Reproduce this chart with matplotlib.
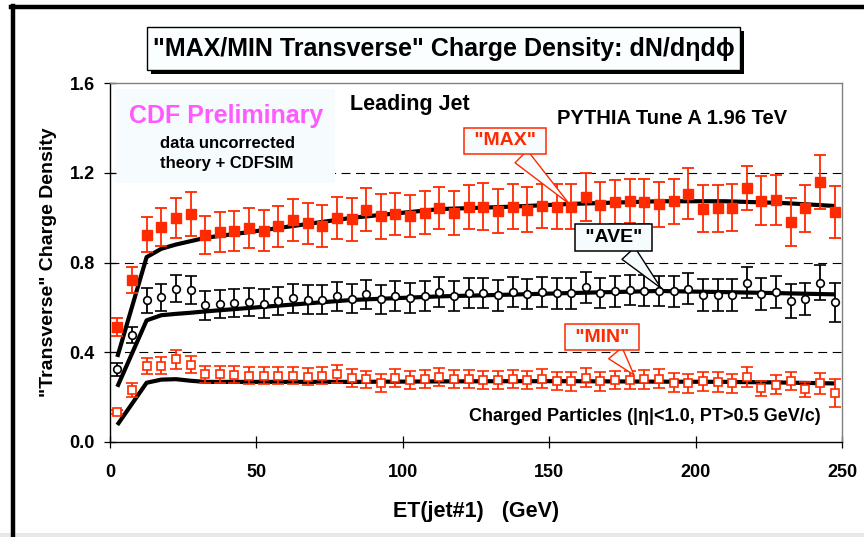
import matplotlib
matplotlib.use('Agg')
import matplotlib.pyplot as plt
from matplotlib.lines import Line2D
from matplotlib.patches import Rectangle

plt.rcParams['font.family'] = ['Liberation Sans', 'DejaVu Sans']
plt.rcParams['font.weight'] = 'bold'

# bin centres of ET(jet#1)
et = [2.5, 7.5, 12.5, 17.5, 22.5, 27.5, 32.5, 37.5, 42.5, 47.5,
      52.5, 57.5, 62.5, 67.5, 72.5, 77.5, 82.5, 87.5, 92.5, 97.5,
      102.5, 107.5, 112.5, 117.5, 122.5, 127.5, 132.5, 137.5, 142.5, 147.5,
      152.5, 157.5, 162.5, 167.5, 172.5, 177.5, 182.5, 187.5, 192.5, 197.5,
      202.5, 207.5, 212.5, 217.5, 222.5, 227.5, 232.5, 237.5, 242.5, 247.5]

max_val = [0.513, 0.723, 0.924, 0.957, 0.999, 1.016, 0.923, 0.935, 0.942, 0.954,
           0.942, 0.961, 0.990, 0.975, 0.963, 0.999, 0.993, 1.036, 1.006, 1.015,
           1.007, 1.022, 1.043, 1.019, 1.046, 1.049, 1.031, 1.049, 1.036, 1.052,
           1.049, 1.049, 1.093, 1.058, 1.068, 1.076, 1.071, 1.059, 1.073, 1.107,
           1.040, 1.041, 1.044, 1.132, 1.076, 1.079, 0.979, 1.041, 1.160, 1.025]
max_err = [0.040, 0.058, 0.077, 0.084, 0.090, 0.098, 0.086, 0.088, 0.089, 0.090,
           0.090, 0.091, 0.092, 0.092, 0.093, 0.094, 0.095, 0.096, 0.101, 0.094,
           0.094, 0.095, 0.093, 0.098, 0.098, 0.104, 0.098, 0.099, 0.100, 0.100,
           0.100, 0.101, 0.106, 0.100, 0.098, 0.098, 0.100, 0.100, 0.100, 0.114,
           0.105, 0.105, 0.105, 0.100, 0.110, 0.110, 0.107, 0.105, 0.120, 0.117]

ave_val = [0.324, 0.476, 0.631, 0.646, 0.683, 0.679, 0.609, 0.615, 0.618, 0.624,
           0.616, 0.628, 0.641, 0.634, 0.634, 0.650, 0.638, 0.658, 0.636, 0.650,
           0.643, 0.652, 0.668, 0.650, 0.662, 0.664, 0.653, 0.667, 0.659, 0.667,
           0.662, 0.662, 0.690, 0.665, 0.671, 0.677, 0.674, 0.673, 0.671, 0.684,
           0.655, 0.656, 0.655, 0.710, 0.659, 0.668, 0.628, 0.638, 0.710, 0.622]
ave_err = [0.030, 0.037, 0.056, 0.060, 0.060, 0.062, 0.064, 0.063, 0.063, 0.064,
           0.064, 0.064, 0.064, 0.064, 0.065, 0.065, 0.065, 0.064, 0.065, 0.066,
           0.066, 0.066, 0.066, 0.066, 0.067, 0.067, 0.067, 0.067, 0.067, 0.067,
           0.068, 0.068, 0.069, 0.068, 0.068, 0.068, 0.069, 0.069, 0.069, 0.070,
           0.070, 0.070, 0.070, 0.069, 0.072, 0.072, 0.074, 0.072, 0.079, 0.087]

min_val = [0.133, 0.231, 0.339, 0.339, 0.369, 0.344, 0.301, 0.301, 0.299, 0.296,
           0.295, 0.295, 0.295, 0.290, 0.296, 0.302, 0.285, 0.279, 0.261, 0.286,
           0.276, 0.281, 0.289, 0.279, 0.279, 0.276, 0.276, 0.281, 0.276, 0.283,
           0.271, 0.270, 0.286, 0.270, 0.276, 0.276, 0.279, 0.283, 0.265, 0.261,
           0.271, 0.267, 0.261, 0.290, 0.239, 0.256, 0.272, 0.234, 0.261, 0.219]
min_err = [0.010, 0.030, 0.037, 0.038, 0.043, 0.038, 0.039, 0.038, 0.038, 0.038,
           0.038, 0.038, 0.038, 0.038, 0.039, 0.039, 0.039, 0.039, 0.040, 0.039,
           0.040, 0.040, 0.040, 0.040, 0.040, 0.040, 0.040, 0.040, 0.040, 0.041,
           0.041, 0.041, 0.042, 0.041, 0.041, 0.041, 0.042, 0.042, 0.042, 0.043,
           0.043, 0.043, 0.043, 0.043, 0.034, 0.044, 0.041, 0.033, 0.045, 0.061]

# PYTHIA Tune A + CDFSIM curves
th_et = [2.5, 12.5, 17.5, 22.5, 27.5, 32.5, 50, 82.5, 112.5, 137.5, 157.5, 187.5, 210, 230, 247.5]
th_max = [0.379, 0.824, 0.861, 0.880, 0.895, 0.910, 0.940, 0.999, 1.038, 1.049, 1.061, 1.073, 1.073, 1.065, 1.052]
th_ave = [0.246, 0.542, 0.565, 0.571, 0.576, 0.582, 0.600, 0.633, 0.649, 0.657, 0.664, 0.673, 0.668, 0.663, 0.658]
th_min = [0.076, 0.264, 0.278, 0.280, 0.273, 0.268, 0.268, 0.268, 0.270, 0.271, 0.271, 0.269, 0.268, 0.265, 0.261]

xticks = [0, 50, 100, 150, 200, 250]
yticks = [0.0, 0.4, 0.8, 1.2, 1.6]

red = '#FF2A00'
boxbg = '#F6FBFD'

fig = plt.figure(figsize=(8.64, 5.37), dpi=100)
ax = fig.add_axes([110 / 864, 1 - 442 / 537, 732 / 864, 359 / 537])

for y in yticks[1:-1]:
    ax.axhline(y, color='black', lw=0.8, ls=(0, (8, 5)), zorder=0.5)

ax.plot(th_et, th_max, color='black', lw=3, zorder=2, solid_capstyle='butt')
ax.plot(th_et, th_ave, color='black', lw=3, zorder=2, solid_capstyle='butt')
ax.plot(th_et, th_min, color='black', lw=3, zorder=2, solid_capstyle='butt')

ax.errorbar(et, max_val, yerr=max_err, fmt='s', color=red, ms=6.5, mfc=red, mec=red,
            elinewidth=1.3, capsize=4, capthick=1.3, zorder=3)
ax.errorbar(et, ave_val, yerr=ave_err, fmt='o', color='black', ms=5.5, mfc='white', mec='black',
            mew=1.2, elinewidth=1.3, capsize=4, capthick=1.3, zorder=3)
ax.errorbar(et, min_val, yerr=min_err, fmt='s', color=red, ms=5.5, mfc='white', mec=red,
            mew=1.2, elinewidth=1.3, capsize=4, capthick=1.3, zorder=3)

ax.set_xlim(0, 250)
ax.set_ylim(0, 1.6)
ax.set_xticks(xticks)
ax.set_yticks(yticks)
ax.set_xticklabels([str(v) for v in xticks])
ax.set_yticklabels(['%.1f' % v for v in yticks])
ax.tick_params(direction='inout', length=8, width=0.9, labelsize=13, pad=7)
ax.tick_params(axis='x', pad=12)
for s in ['top', 'right']:
    ax.spines[s].set_color('#808080')
    ax.spines[s].set_linewidth(1.0)
for s in ['left', 'bottom']:
    ax.spines[s].set_linewidth(1.0)

ax.set_xlabel('ET(jet#1)   (GeV)', fontsize=15.5, fontweight='bold', labelpad=14)
ax.set_ylabel('"Transverse" Charge Density', fontsize=14, fontweight='bold', labelpad=9)

# text box upper left
ax.add_patch(Rectangle((1.7, 1.156), 75.1, 0.417, fc=boxbg, ec='none', zorder=1))
ax.text(39.5, 1.453, 'CDF Preliminary', color='#FF59FF', fontsize=18, fontweight='bold',
        ha='center', va='center', zorder=4)
ax.text(40, 1.329, 'data uncorrected', fontsize=12, ha='center', va='center', zorder=4)
ax.text(40, 1.24, 'theory + CDFSIM', fontsize=12, ha='center', va='center', zorder=4)

ax.text(102.5, 1.502, 'Leading Jet', fontsize=15.5, ha='center', va='center')
ax.text(192, 1.444, 'PYTHIA Tune A 1.96 TeV', fontsize=14.5, ha='center', va='center')
ax.text(182.5, 0.112, 'Charged Particles (|η|<1.0, PT>0.5 GeV/c)', fontsize=13,
        ha='center', va='center', zorder=4)

# callouts
for label, xy, xyt, col in [(' "MAX" ', (157.5, 1.053), (135, 1.342), red),
                            (' "AVE" ', (188.9, 0.676), (172, 0.911), 'black'),
                            (' "MIN" ', (179.6, 0.289), (168, 0.467), red)]:
    ax.annotate(label, xy=xy, xytext=xyt, ha='center', va='center', color=col,
                fontsize=14, fontweight='bold', zorder=5,
                bbox=dict(boxstyle='square,pad=0.24', fc=boxbg, ec=col, lw=1.1),
                arrowprops=dict(arrowstyle='wedge,tail_width=0.9,shrink_factor=0.5',
                                fc=boxbg, ec=col, lw=1.0))

# title box with shadow
fig.add_artist(Rectangle((151 / 864, 1 - 74 / 537), 593 / 864, 43 / 537,
                         transform=fig.transFigure, fc='black', ec='none'))
fig.add_artist(Rectangle((147 / 864, 1 - 70 / 537), 593 / 864, 43 / 537,
                         transform=fig.transFigure, fc='#FBFEFF', ec='black', lw=1.0))
fig.text(443.5 / 864, 1 - 49 / 537, '"MAX/MIN Transverse" Charge Density: dN/dηdϕ',
         fontsize=18, fontweight='bold', ha='center', va='center')

# slide frame
fig.add_artist(Line2D([11 / 864, 1], [1 - 7 / 537, 1 - 7 / 537], transform=fig.transFigure,
                      color='black', lw=3.2))
fig.add_artist(Line2D([13 / 864, 13 / 864], [0, 1 - 5.5 / 537], transform=fig.transFigure,
                      color='black', lw=3.2))
fig.add_artist(Rectangle((0, 0), 1, 4 / 537, transform=fig.transFigure, fc='#E8E8E8', ec='none'))

fig.savefig('out.png', dpi=100)
